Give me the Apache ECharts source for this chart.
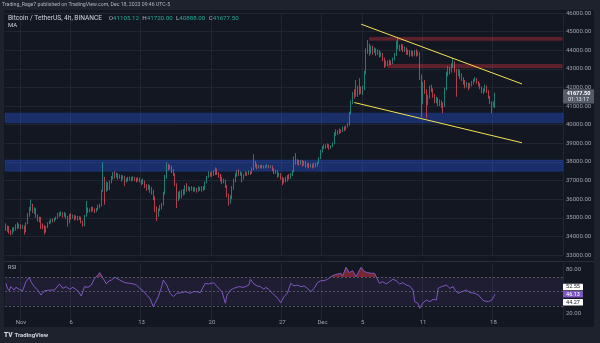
<!DOCTYPE html>
<html><head><meta charset="utf-8">
<script src="https://cdn.jsdelivr.net/npm/echarts@6/dist/echarts.min.js"></script>
<style>html,body{margin:0;padding:0;background:#1e222d;}#c{width:600px;height:343px;}</style>
</head><body><div id="c"></div><script>
// ---------- data ----------
const chartTitle = 'Trading_Rage7 published on TradingView.com, Dec 18, 2023 09:46 UTC-5';
const symbolName = 'Bitcoin / TetherUS, 4h, BINANCE';
const firstBarUTC = Date.UTC(2023, 9, 30, 15); // first 4h bar (chart time, UTC-5)
const barHours = 4;
const slotCount = 333;                          // bars + empty right margin
const countdown = '01:13:17';

// [open, close, low, high] per 4h bar
const candles = [
// Oct 30
[34650,34380,34300,34700],[34380,34520,34250,34580],[34520,34300,34150,34560],
// Oct 31
[34300,34150,34060,34350],[34150,34420,34100,34480],[34420,34350,34250,34500],[34350,34560,34300,34650],[34560,34480,34400,34760],[34480,34600,34420,34680],
// Nov 1
[34600,34450,34380,34650],[34450,34550,34400,34620],[34550,34260,34100,34580],[34260,34700,34220,34760],[34700,35150,34650,35250],[35150,35450,35050,35580],
// Nov 2
[35450,35600,35350,35980],[35600,35350,35250,35750],[35350,35480,35200,35560],[35480,35100,35000,35520],[35100,34900,34800,35180],[34900,35000,34750,35060],
// Nov 3
[35000,34650,34400,35050],[34650,34550,34380,34700],[34550,34250,34100,34600],[34250,34500,34200,34560],[34500,34700,34450,34760],[34700,34760,34650,34850],
// Nov 4
[34760,34900,34700,34950],[34900,34820,34750,34960],[34820,34950,34780,35000],[34950,35000,34880,35060],[35000,35180,34950,35260],[35180,35150,35050,35300],
// Nov 5
[35150,35250,35100,35350],[35250,35100,35000,35300],[35100,35200,35050,35320],[35200,35050,34950,35250],[35050,34800,34530,35100],[34800,35150,34700,35200],
// Nov 6
[35150,35000,34900,35250],[35000,35100,34950,35180],[35100,34950,34850,35150],[34950,35050,34900,35120],[35050,34950,34850,35100],[34950,35020,34880,35080],
// Nov 7
[35020,34800,34700,35060],[34800,34600,34520,34850],[34600,35100,34550,35150],[35100,35450,35050,35900],[35450,35350,35250,35550],[35350,35400,35300,35500],
// Nov 8
[35400,35500,35300,35600],[35500,35420,35350,35580],[35420,35350,35250,35500],[35350,35450,35300,35520],[35450,35600,35400,35700],[35600,35680,35500,35760],
// Nov 9
[35680,36450,35600,36500],[36450,37100,36400,37990],[37100,36600,35700,37200],[36600,36800,36400,36950],[36800,36550,36450,36900],[36550,36900,36500,37000],
// Nov 10
[36900,37150,36850,37250],[37150,37300,37050,37450],[37300,37200,37100,37500],[37200,37350,37150,37420],[37350,37150,37050,37400],[37150,37250,37100,37330],
// Nov 11
[37250,37100,36950,37300],[37100,37200,37050,37280],[37200,36950,36700,37250],[36950,37100,36900,37150],[37100,37050,36950,37200],[37050,37150,37000,37220],
// Nov 12
[37150,37050,36950,37200],[37050,37150,37000,37230],[37150,37080,36980,37200],[37080,37000,36900,37150],[37000,37100,36950,37180],[37100,37000,36900,37150],
// Nov 13
[37000,36850,36750,37050],[36850,36950,36800,37100],[36950,36700,36600,37000],[36700,36600,36450,36800],[36600,36700,36500,36800],[36700,36500,36350,36750],
// Nov 14
[36500,36400,36250,36650],[36400,36100,35950,36500],[36100,35500,35300,36150],[35500,35150,34820,35600],[35150,35400,35050,35500],[35400,35550,35350,35680],
// Nov 15
[35550,35700,35450,35800],[35700,36300,35650,36400],[36300,37200,36250,37300],[37200,37800,37100,37990],[37800,37700,37550,37900],[37700,37750,37600,37850],
// Nov 16
[37750,37500,37400,37800],[37500,37350,37250,37600],[37350,36800,36700,37400],[36800,36000,35520,36850],[36000,36300,35900,36400],[36300,36150,36000,36450],
// Nov 17
[36150,36400,36050,36500],[36400,36300,36200,36550],[36300,36600,36250,36750],[36600,36500,36400,36860],[36500,36600,36450,36700],[36600,36500,36400,36650],
// Nov 18
[36500,36600,36450,36700],[36600,36500,36400,36650],[36500,36550,36400,36650],[36550,36450,36350,36600],[36450,36600,36400,36700],[36600,36500,36450,36650],
// Nov 19
[36500,36650,36400,36700],[36650,36550,36450,36700],[36550,36900,36500,36950],[36900,37200,36850,37250],[37200,37400,37150,37500],[37400,37300,37200,37450],
// Nov 20
[37300,37450,37200,37500],[37450,37350,37250,37550],[37350,37600,37300,37700],[37600,37400,37300,37650],[37400,37300,37150,37450],[37300,37100,36950,37350],
// Nov 21
[37100,36900,36800,37200],[36900,37000,36850,37100],[37000,36700,36600,37050],[36700,36200,36100,36750],[36200,35800,35650,36300],[35800,36100,35750,36200],
// Nov 22
[36100,36600,36000,36700],[36600,37000,36500,37100],[37000,37300,36900,37400],[37300,37450,37200,37550],[37450,37350,37250,37600],[37350,37400,37250,37500],
// Nov 23
[37400,37100,36900,37450],[37100,37300,37050,37350],[37300,37400,37250,37500],[37400,37350,37250,37450],[37350,37450,37300,37550],[37450,37400,37300,37500],
// Nov 24
[37400,37600,37350,37700],[37600,37950,37550,38420],[37950,37800,37700,38050],[37800,37700,37600,37900],[37700,37780,37650,37850],[37780,37720,37650,37830],
// Nov 25
[37720,37780,37650,37850],[37780,37700,37650,37820],[37700,37760,37650,37830],[37760,37800,37700,37880],[37800,37720,37650,37850],[37720,37760,37680,37820],
// Nov 26
[37760,37600,37500,37800],[37600,37450,37350,37650],[37450,37500,37350,37580],[37500,37250,37150,37550],[37250,37350,37200,37420],[37350,37150,37050,37400],
// Nov 27
[37150,36900,36750,37200],[36900,37100,36850,37150],[37100,37000,36900,37200],[37000,37250,36950,37300],[37250,37150,37050,37350],[37150,37300,37100,37400],
// Nov 28
[37300,37500,37250,37550],[37500,38150,37450,38300],[38150,37950,37850,38470],[37950,38050,37850,38150],[38050,37900,37800,38100],[37900,38000,37850,38100],
// Nov 29
[38000,37850,37750,38100],[37850,37950,37800,38050],[37950,37800,37700,38050],[37800,37900,37700,37950],[37900,37750,37650,37950],[37750,37850,37700,37900],
// Nov 30
[37850,37750,37650,37900],[37750,37900,37700,37950],[37900,37800,37700,37950],[37800,37950,37750,38000],[37950,38200,37900,38250],[38200,38550,38150,38650],
// Dec 1
[38550,38750,38500,38850],[38750,38850,38700,38950],[38850,38800,38700,38950],[38800,38900,38750,38990],[38900,38750,38650,38950],[38750,38850,38700,38900],
// Dec 2
[38850,39000,38800,39050],[39000,39500,38950,39600],[39500,39650,39400,39750],[39650,39550,39450,39700],[39550,39700,39500,39800],[39700,39650,39550,39750],
// Dec 3
[39650,39800,39600,39900],[39800,39750,39650,39900],[39750,39900,39700,39950],[39900,40000,39850,40100],[40000,40600,39950,40700],[40600,41200,40550,41300],
// Dec 4
[41200,41700,41100,41750],[41700,41600,41400,41900],[41600,42000,41500,42400],[42000,41700,41500,42100],[41700,41900,41600,42500],[41900,41800,41650,42050],
// Dec 5
[41800,41950,41600,42100],[41950,42800,41850,42900],[42800,44000,42700,44100],[44000,44200,43800,44550],[44200,43900,43700,44350],[43900,44150,43800,44250],
// Dec 6
[44150,43900,43750,44250],[43900,44050,43850,44150],[44050,43850,43700,44100],[43850,43950,43750,44050],[43950,43750,43600,44000],[43750,43800,43650,43900],
// Dec 7
[43800,43500,43400,43850],[43500,43200,43050,43600],[43200,43350,43100,43450],[43350,43250,43150,43450],[43250,43400,43200,43500],[43400,43300,43200,43450],
// Dec 8
[43300,43500,43250,43600],[43500,43750,43450,43850],[43750,44350,43700,44500],[44350,44200,44050,44690],[44200,44100,43950,44300],[44100,44250,44000,44350],
// Dec 9
[44250,44000,43900,44300],[44000,44100,43900,44200],[44100,43850,43750,44150],[43850,43950,43750,44050],[43950,43800,43650,44000],[43800,43900,43700,44000],
// Dec 10
[43900,43750,43650,43950],[43750,43900,43700,44000],[43900,43800,43650,44050],[43800,43850,43700,43950],[43850,42600,42400,43900],[42600,41250,40400,42700],
// Dec 11
[41250,42100,41100,42300],[42100,41800,41650,42400],[41800,41200,40350,41900],[41200,41500,41050,41600],[41500,42000,41400,42100],[42000,41900,41750,42150],
// Dec 12
[41900,41600,41450,41950],[41600,41300,41150,41650],[41300,41400,41150,41500],[41400,41150,41000,41450],[41150,41250,41000,41350],[41250,41050,40900,41300],
// Dec 13
[41050,41000,40620,41200],[41000,41900,40950,42000],[41900,42700,41850,42850],[42700,43000,42600,43150],[43000,42850,42700,43100],[42850,43150,42800,43300],
// Dec 14
[43150,43300,43050,43580],[43300,42900,42800,43400],[42900,42700,41500,43000],[42700,42900,42600,43000],[42900,42600,42450,42950],[42600,42500,42350,42750],
// Dec 15
[42500,42300,42150,42550],[42300,42100,41950,42400],[42100,42200,42000,42300],[42200,42000,41850,42250],[42000,42150,41950,42250],[42150,42250,42050,42350],
// Dec 16
[42250,42400,42150,42450],[42400,42450,42300,42560],[42450,42300,42200,42500],[42300,42200,42050,42350],[42200,42000,41900,42250],[42000,41850,41700,42050],
// Dec 17
[41850,41800,41650,41950],[41800,42050,41750,42150],[42050,41800,41700,42100],[41800,41500,41400,41850],[41500,41200,41100,41550],[41200,41000,40620,41250],
// Dec 18
[41000,41105,40950,41250],[41105.12,41677.5,40888,41720]
];

// RSI readings: [bar number, value]
const rsiPoints = [
[0,61.4],[1,54.4],[2,51.2],[3,56.8],[5,52],[6,55.8],[8,53],[10,51],[12,63.7],[14,69.8],[15,63.7],[17,56.8],[19,52],[21,45],[23,51],[26,52],[29,52],[32,60.5],[34,54.4],[36,56.8],[38,53],[40,55.8],[43,51],[45,43.7],[47,56.8],[49,55.8],[51,59],[53,68.4],[55,73],[56,76.3],[57,77.7],[58,68.4],[60,60.5],[61,63.7],[63,66],[65,69.8],[68,66],[71,62.3],[74,61.4],[76,60.5],[78,59],[80,54.4],[82,51],[84,45],[86,40.5],[88,28.8],[89,33.5],[91,42.8],[93,56.8],[94,66],[96,59],[98,47.5],[100,42.8],[102,47.5],[105,48.4],[107,49.8],[110,47.5],[112,49.8],[114,49.8],[116,48.4],[119,61.4],[121,60.5],[124,62.3],[126,56.8],[129,49.8],[131,33.5],[132,45],[134,52],[136,54.4],[139,56.8],[142,55.8],[145,59],[146,67],[148,60.5],[150,57.7],[152,56.8],[154,53],[155,55.8],[157,53],[159,47.5],[161,43.7],[163,38.2],[164,34.4],[166,42.8],[168,47.5],[170,61.4],[172,57.7],[174,59],[176,56.8],[178,57.7],[180,54.4],[182,49.8],[184,54.4],[186,62.3],[188,65.1],[190,65.1],[192,67],[194,70.7],[196,73],[198,74.4],[200,75.4],[201,71.6],[203,83.7],[205,76.3],[207,79],[209,70.7],[210,75.4],[212,83.7],[214,77.7],[216,76.3],[218,75.4],[220,75.4],[221,70.7],[223,61.4],[225,63.7],[227,60.5],[229,63.7],[231,67],[233,65.1],[235,60.5],[237,62.3],[239,59],[241,57.7],[243,52],[244,35.8],[246,33.5],[247,26.5],[249,34.4],[251,38.2],[253,35.8],[255,39.1],[257,38.2],[258,54.4],[260,56.8],[263,59],[265,54.4],[267,56.8],[268,52],[270,47.5],[272,49.8],[275,52],[277,48.4],[280,47.5],[282,45],[285,37.2],[288,35.8],[290,38.2],[292,46.13]
];
const rsiSideLabels = [52.55, 46.13, 44.27];
const rsiLevels = [70, 50, 30];
const rsiAxisLabels = [80, 20];

const supportZones = [[37500, 38100], [40100, 40620]];
const resistanceZones = [['2023-12-05 19:00', 44530, 44690], ['2023-12-07 15:00', 43060, 43240]];
const trendLines = [
  [['2023-12-04 23:00', 45400], ['2023-12-20 23:00', 42190]],
  [['2023-12-04 07:00', 41190], ['2023-12-20 23:00', 39030]]
];

const xTickDates = ['2023-11-01 03:00','2023-11-06 03:00','2023-11-13 03:00','2023-11-20 03:00','2023-11-27 03:00','2023-12-01 03:00','2023-12-05 03:00','2023-12-11 03:00','2023-12-18 03:00'];
const xTickLabels = ['Nov','6','13','20','27','Dec','5','11','18'];
const priceMin = 33000, priceMax = 46000, priceStep = 1000;
const rsiMin = 10, rsiMax = 90, rsiStep = 10;

// ---------- build ----------
const pad = n => String(n).padStart(2, '0');
const categories = [];
for (let k = 0; k < slotCount; k++) {
  const d = new Date(firstBarUTC + k * barHours * 3600e3);
  categories.push(`${d.getUTCFullYear()}-${pad(d.getUTCMonth()+1)}-${pad(d.getUTCDate())} ${pad(d.getUTCHours())}:00`);
}
const tickSet = new Set(xTickDates);
const tickName = Object.fromEntries(xTickDates.map((d, i) => [d, xTickLabels[i]]));

const FONT = 'Roboto, "Liberation Sans", sans-serif';
const UP = '#22ab94', DOWN = '#f7525f';
const gridLine = 'rgba(42,46,57,0.6)';
const axisText = '#a0a3ab';

const chart = echarts.init(document.getElementById('c'), null, {renderer: 'canvas'});
chart.setOption({
  backgroundColor: '#1e222d',
  animation: false,
  textStyle: {fontFamily: FONT},
  grid: [
    {left: 5, top: 13, width: 558, height: 242, outerBoundsMode: 'none', containLabel: false},
    {left: 5, top: 262.83, width: 558, height: 57.34, outerBoundsMode: 'none', containLabel: false}
  ],
  xAxis: [
    {type: 'category', gridIndex: 0, data: categories, boundaryGap: true,
      axisLine: {show: false}, axisTick: {show: false}, axisLabel: {show: false},
      splitLine: {show: true, interval: (i, v) => tickSet.has(v), lineStyle: {color: gridLine, width: 1}}},
    {type: 'category', gridIndex: 1, data: categories, boundaryGap: true, offset: -4,
      axisLine: {show: false}, axisTick: {show: false},
      axisLabel: {show: true, interval: (i, v) => tickSet.has(v), formatter: v => tickName[v] || '',
        color: axisText, fontSize: 6, margin: 3, fontFamily: FONT},
      splitLine: {show: true, interval: (i, v) => tickSet.has(v), lineStyle: {color: gridLine, width: 1}}}
  ],
  yAxis: [
    {type: 'value', gridIndex: 0, position: 'right', min: priceMin, max: priceMax, interval: priceStep,
      axisLine: {show: false}, axisTick: {show: false},
      axisLabel: {color: axisText, fontSize: 6, margin: 3, fontFamily: FONT, formatter: v => v.toFixed(2)},
      splitLine: {show: true, lineStyle: {color: gridLine, width: 1}}},
    {type: 'value', gridIndex: 1, position: 'right', min: rsiMin, max: rsiMax, interval: rsiStep,
      axisLine: {show: false}, axisTick: {show: false},
      axisLabel: {color: axisText, fontSize: 6, margin: 3, fontFamily: FONT,
        formatter: v => rsiAxisLabels.includes(v) ? v.toFixed(2) : ''},
      splitLine: {show: false}}
  ],
  visualMap: [{type: 'piecewise', show: false, seriesIndex: 3, dimension: 1,
    pieces: [{gt: 70, lte: 100, color: 'rgba(242,54,69,0.45)'}],
    outOfRange: {color: 'rgba(0,0,0,0)'}}],
  series: [
    {type: 'candlestick', xAxisIndex: 0, yAxisIndex: 0, data: candles, barWidth: 1.1, z: 2,
      itemStyle: {color: UP, color0: DOWN, borderColor: UP, borderColor0: DOWN, borderWidth: 0.7}},
    {type: 'line', xAxisIndex: 0, yAxisIndex: 0, data: [], z: 3, silent: true,
      markArea: {silent: true,
        itemStyle: {color: 'rgba(41,98,255,0.33)', borderColor: 'rgba(41,98,255,0.2)', borderWidth: 1},
        data: supportZones.map(([lo, hi]) => [{yAxis: lo}, {yAxis: hi}]).concat(
          resistanceZones.map(([from, lo, hi]) => [
            {xAxis: from, yAxis: hi, itemStyle: {color: 'rgba(242,54,69,0.33)', borderColor: 'rgba(242,54,69,0.2)', borderWidth: 1}},
            {xAxis: categories[slotCount - 1], yAxis: lo}]))},
      markLine: {silent: true, symbol: ['none', 'none'], label: {show: false},
        lineStyle: {color: '#f3e24e', width: 1, type: 'solid'},
        data: trendLines.map(([a, b]) => [{coord: a}, {coord: b}])}
    },
    {type: 'line', xAxisIndex: 1, yAxisIndex: 1, data: rsiPoints, symbol: 'none', z: 3,
      lineStyle: {color: '#7e57c2', width: 1},
      markArea: {silent: true, itemStyle: {color: 'rgba(126,87,194,0.1)'},
        data: [[{yAxis: rsiLevels[2]}, {yAxis: rsiLevels[0]}]]},
      markLine: {silent: true, symbol: ['none', 'none'], label: {show: false},
        lineStyle: {color: 'rgba(120,123,134,0.6)', type: [2, 2], width: 1},
        data: rsiLevels.map(v => ({yAxis: v}))}
    },
    {type: 'line', xAxisIndex: 1, yAxisIndex: 1, data: rsiPoints, symbol: 'none', z: 2, silent: true,
      lineStyle: {width: 0, opacity: 0}, areaStyle: {origin: 70, opacity: 1}}
  ]
});

// ---------- overlay texts / labels ----------
const last = candles[candles.length - 1];
const yPrice = chart.convertToPixel({gridIndex: 0}, [0, last[1]])[1];
const yRsi = chart.convertToPixel({gridIndex: 1}, [0, rsiSideLabels[1]])[1];
const f = (s, w) => `${w || 'normal'} ${s}px ${FONT}`;
const box = (x, yc, w, h, fill, text, color) => ({
  type: 'group', children: [
    {type: 'rect', shape: {x: x, y: yc - h / 2, width: w, height: h, r: 0.5}, style: {fill: fill}},
    {type: 'text', x: x + w / 2, y: yc, style: {text: text, fill: color, font: f(5.5), align: 'center', verticalAlign: 'middle'}}
  ]});

chart.setOption({
  graphic: [
    {type: 'rect', z: -100, silent: true, shape: {x: 4, y: 10, width: 590, height: 317}, style: {fill: '#131722'}},
    {type: 'line', silent: true, shape: {x1: 4, y1: 261.5, x2: 594, y2: 261.5}, style: {stroke: '#2a2e39', lineWidth: 1}},
    {type: 'text', x: 2, y: 5, style: {text: chartTitle, fill: '#b2b5be', font: f(5.2), verticalAlign: 'middle'}},
    {type: 'text', x: 8, y: 18.5, style: {
      text: `{s|${symbolName}}  {k|O}{v|${last[0].toFixed(2)}} {k|H}{v|${last[3].toFixed(2)}} {k|L}{v|${last[2].toFixed(2)}} {k|C}{v|${last[1].toFixed(2)}}`,
      verticalAlign: 'middle',
      rich: {
        s: {fill: '#d1d4dc', font: f(6.6)},
        k: {fill: '#b2b5be', font: f(6.2)},
        v: {fill: UP, font: f(6.2)}
      }}},
    {type: 'text', x: 8, y: 25.5, style: {text: 'MA', fill: '#d1d4dc', font: f(6), verticalAlign: 'middle'}},
    {type: 'text', x: 8, y: 267.5, style: {text: 'RSI', fill: '#b2b5be', font: f(5.5), verticalAlign: 'middle'}},
    // last price label
    {type: 'rect', shape: {x: 563, y: yPrice - 4.3, width: 31, height: 14.3, r: 0.5}, style: {fill: '#565b68'}},
    {type: 'text', x: 578.5, y: yPrice, style: {text: last[1].toFixed(2), fill: '#ffffff', font: f(5.5, 'bold'), align: 'center', verticalAlign: 'middle'}},
    {type: 'text', x: 578.5, y: yPrice + 6, style: {text: countdown, fill: '#e0e3eb', font: f(5.5), align: 'center', verticalAlign: 'middle'}},
    // RSI side labels
    box(563, yRsi - 7.3, 20, 6.4, '#ffffff', rsiSideLabels[0].toFixed(2), '#131722'),
    box(563, yRsi, 20, 6.6, '#7e57c2', rsiSideLabels[1].toFixed(2), '#ffffff'),
    box(563, yRsi + 8, 20, 6.4, '#ffffff', rsiSideLabels[2].toFixed(2), '#131722'),
    // footer logo
    {type: 'text', x: 4, y: 335, style: {text: 'TV', fill: '#d1d4dc', font: f(6.5, '900'), verticalAlign: 'middle'}},
    {type: 'text', x: 14.5, y: 335, style: {text: 'TradingView', fill: '#d1d4dc', font: f(6, 'bold'), verticalAlign: 'middle'}}
  ]
});
</script></body></html>
